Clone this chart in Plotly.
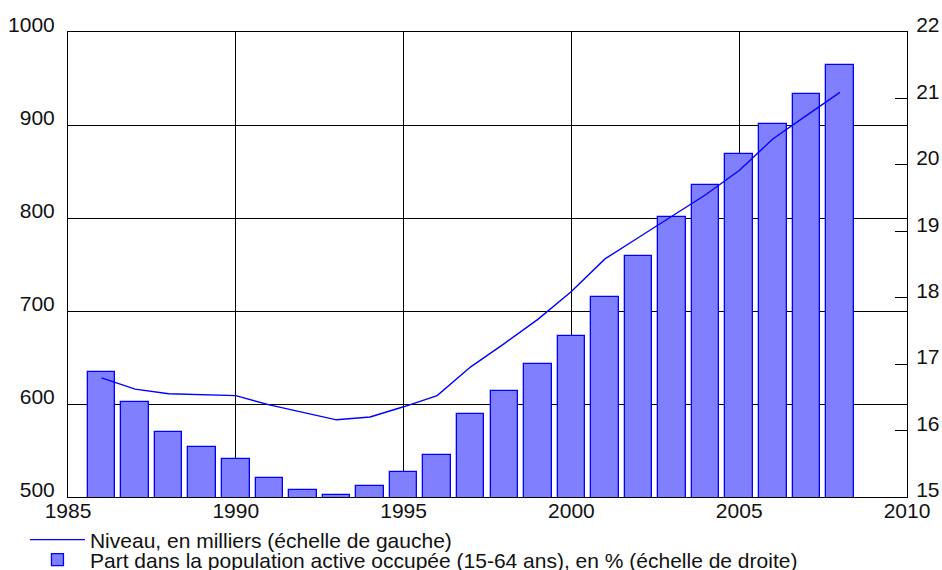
import plotly.graph_objects as go

# years covered by the series
years = list(range(1986, 2009))

# Niveau, en milliers (left axis)
niveau = [628, 616, 611, 610, 609, 599, 591, 583, 586, 597, 609, 640,
          665, 691, 721, 756, 779, 802, 825, 851, 885, 910, 935]

# Part dans la population active occupée, en % (right axis)
part = [16.88, 16.43, 15.98, 15.75, 15.57, 15.28, 15.10, 15.03, 15.16, 15.37,
        15.63, 16.25, 16.59, 17.00, 17.42, 18.01, 18.63, 19.21, 19.70, 20.16,
        20.62, 21.07, 21.51]

FONT = dict(family="Liberation Sans, Arial, sans-serif", size=21, color="#111111")


def main():
    fig = go.Figure()

    fig.add_trace(go.Bar(
        x=years, y=part, yaxis="y", width=0.82,
        marker=dict(color="#8080ff", line=dict(color="#0000ff", width=1.3)),
        name="Part dans la population active occupée (15-64 ans), en % (échelle de droite)",
        legend="legend2",
    ))
    fig.add_trace(go.Scatter(
        x=years, y=niveau, yaxis="y2", mode="lines",
        line=dict(color="#0000ff", width=1.4),
        name="Niveau, en milliers (échelle de gauche)",
        legend="legend",
    ))

    fig.update_layout(
        width=942, height=570,
        margin=dict(l=68, r=35, t=32, b=73, autoexpand=False),
        paper_bgcolor="white", plot_bgcolor="white",
        font=FONT,
        showlegend=True,
        bargap=0,
        xaxis=dict(range=[1985, 2010], tick0=1985, dtick=5, showgrid=True,
                   gridcolor="black", gridwidth=1, showline=True, linecolor="black",
                   linewidth=1, mirror=True, ticks="", zeroline=False,
                   ticklabelstandoff=-5),
        yaxis=dict(side="right", range=[15, 22], dtick=1, showgrid=False,
                   ticks="inside", ticklen=12, tickcolor="black", showline=True,
                   linecolor="black", linewidth=1, zeroline=False,
                   ticklabelshift=-7, ticklabelstandoff=4),
        yaxis2=dict(overlaying="y", side="left", range=[500, 1000], dtick=100,
                    showgrid=True, gridcolor="black", gridwidth=1, ticks="",
                    showline=True, linecolor="black", linewidth=1, zeroline=False,
                    ticklabelshift=-7, ticklabelstandoff=8),
        legend=dict(x=-0.0513, xanchor="left", y=-0.0925, yanchor="middle",
                    itemwidth=55, bgcolor="rgba(0,0,0,0)", font=FONT),
        legend2=dict(x=-0.0513, xanchor="left", y=-0.1355, yanchor="middle",
                     itemwidth=55, bgcolor="rgba(0,0,0,0)", font=FONT),
    )

    # drop the default body margin so the figure fills the window exactly
    fig.write_html("out.html", config={"displayModeBar": False},
                   post_script="document.body.style.margin = '0';")


if __name__ == '__main__':
    main()
